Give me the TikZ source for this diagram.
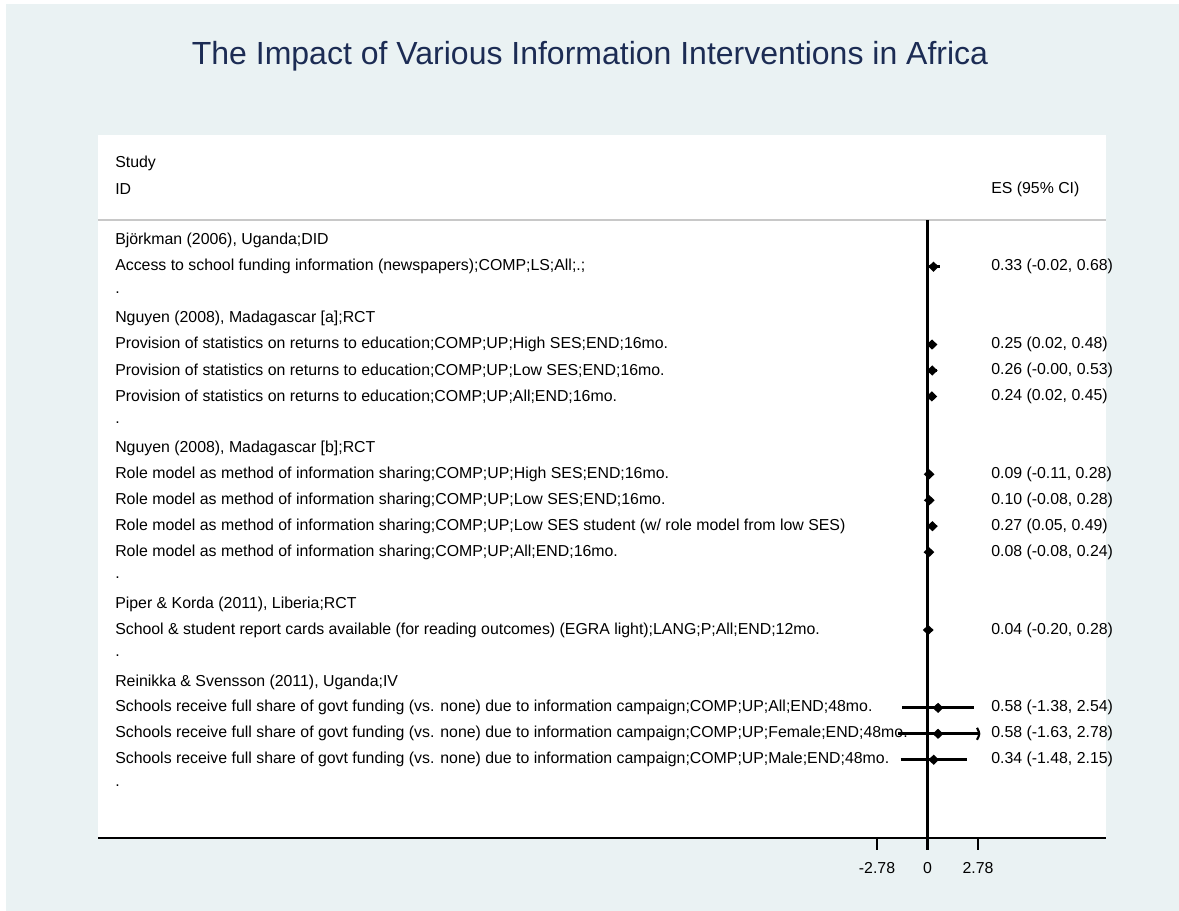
\documentclass[tikz,border=0pt]{standalone}
\usepackage{fontspec}
\setmainfont{Liberation Sans}
\usetikzlibrary{positioning,shapes.geometric}
\definecolor{bgblue}{RGB}{234,242,243}
\definecolor{titlenavy}{RGB}{28,44,84}
\definecolor{rulegray}{RGB}{200,200,200}

\begin{document}
\begin{tikzpicture}[x=0.75pt,y=-0.75pt,every node/.style={font=\fontsize{11.9}{14}\selectfont,inner sep=0pt},studylab/.style={anchor=west},eslab/.style={anchor=west},marker/.style={diamond,fill=black,minimum width=8.2pt,minimum height=7.8pt},cibar/.style={line width=2.2pt},axisline/.style={line width=2pt}]
\useasboundingbox (0,0) rectangle (1179,911);
\fill[bgblue] (6,4) rectangle (1179,911);
\fill[white] (98,135) rectangle (1106,838);
\node[font=\fontsize{24}{28}\selectfont,text=titlenavy] (title) at (590,56) {The Impact of Various Information Interventions in Africa};
% column heads
\node[studylab] (study) at (115,163) {Study};
\node[studylab] (id) at (115,189) {ID};
\node[eslab] (eshead) at (991,189) {ES (95\% CI)};
\draw[rulegray,line width=1.5pt] (98,220) -- (1106,220);
% study labels
\foreach \i/\txt in {0/{Björkman (2006), Uganda;DID},1/{Access to school funding information (newspapers);COMP;LS;All;.;},2/.,3/{Nguyen (2008), Madagascar [a];RCT},4/{Provision of statistics on returns to education;COMP;UP;High SES;END;16mo.},5/{Provision of statistics on returns to education;COMP;UP;Low SES;END;16mo.},6/{Provision of statistics on returns to education;COMP;UP;All;END;16mo.},7/.,8/{Nguyen (2008), Madagascar [b];RCT},9/{Role model as method of information sharing;COMP;UP;High SES;END;16mo.},10/{Role model as method of information sharing;COMP;UP;Low SES;END;16mo.},11/{Role model as method of information sharing;COMP;UP;Low SES student (w/ role model from low SES)},12/{Role model as method of information sharing;COMP;UP;All;END;16mo.},13/.,14/{Piper \& Korda (2011), Liberia;RCT},15/{School \& student report cards available (for reading outcomes) (EGRA light);LANG;P;All;END;12mo.},16/.,17/{Reinikka \& Svensson (2011), Uganda;IV},18/{Schools receive full share of govt funding (vs. none) due to information campaign;COMP;UP;All;END;48mo.},19/{Schools receive full share of govt funding (vs. none) due to information campaign;COMP;UP;Female;END;48mo.},20/{Schools receive full share of govt funding (vs. none) due to information campaign;COMP;UP;Male;END;48mo.},21/.}
  \node[studylab] (row\i) at (115,{240.75+25.95*\i}) {\txt};
% zero line and axis
\coordinate (zerotop) at (927.5,220);
\coordinate (zerobot) at (927.5,850);
\draw[axisline] (zerotop) -- (zerobot);
\draw[axisline] (98,838) -- (1106,838);
\foreach \v/\lab in {-2.78/-2.78,0/0,2.78/2.78}{
  \draw[axisline] ({927.5+18.17*\v},838) -- ++(0,12);
  \node (tick\lab) at ({927.5+18.17*\v},868) {\lab};
}
% estimates
\foreach \i/\es/\lo/\hi/\txt in {1/0.33/-0.02/0.68/{0.33 (-0.02, 0.68)},4/0.25/0.02/0.48/{0.25 (0.02, 0.48)},5/0.26/-0.00/0.53/{0.26 (-0.00, 0.53)},6/0.24/0.02/0.45/{0.24 (0.02, 0.45)},9/0.09/-0.11/0.28/{0.09 (-0.11, 0.28)},10/0.10/-0.08/0.28/{0.10 (-0.08, 0.28)},11/0.27/0.05/0.49/{0.27 (0.05, 0.49)},12/0.08/-0.08/0.24/{0.08 (-0.08, 0.24)},15/0.04/-0.20/0.28/{0.04 (-0.20, 0.28)},18/0.58/-1.38/2.54/{0.58 (-1.38, 2.54)},19/0.58/-1.63/2.78/{0.58 (-1.63, 2.78)},20/0.34/-1.48/2.15/{0.34 (-1.48, 2.15)}}{
  \coordinate (lo\i) at ({927.5+18.17*\lo},{240.75+25.95*\i});
  \coordinate (hi\i) at ({927.5+18.17*\hi},{240.75+25.95*\i});
  \draw[cibar] (lo\i) -- (hi\i);
  \node[marker] (es\i) at ({927.5+18.17*\es},{240.75+25.95*\i}) {};
  \node[eslab] (ci\i) at (991,{240.75+25.95*\i}) {\txt};
}
% truncated interval
\draw[line width=1.6pt] ([shift={(-1,-6)}]hi19) .. controls ([shift={(2,0)}]hi19) .. ([shift={(-1,6)}]hi19);
\end{tikzpicture}
\end{document}
